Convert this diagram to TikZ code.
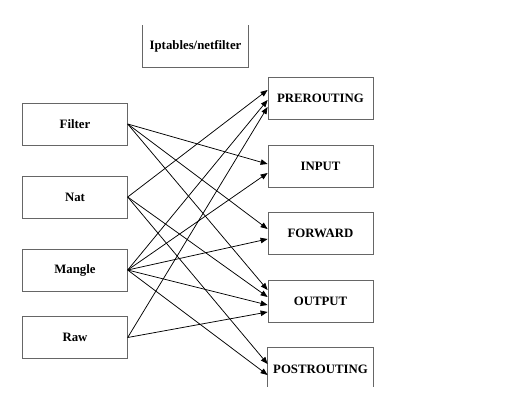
\documentclass[tikz,border=0pt]{standalone}
\usepackage{fontspec}
\setmainfont{Liberation Serif}
\usetikzlibrary{arrows.meta,calc}
\tikzset{
  boxline/.style={draw=black!60, line width=0.8pt},
  lbox/.style={boxline, minimum width=104.6pt, minimum height=42pt, inner sep=0pt, font=\fontsize{12.8}{14}\selectfont\bfseries},
  rbox/.style={lbox, minimum width=105pt},
  conn/.style={line width=0.75pt, -{Triangle[length=7pt,width=5.5pt]}},
}
\begin{document}
\begin{tikzpicture}[x=1pt,y=-1pt]
\useasboundingbox (0,0) rectangle (505,406);
% title (no top border)
\node[lbox, draw=none] (title) at (195.5,46.5) {Iptables/netfilter};
\draw[boxline] (title.north west) -- (title.south west) -- (title.south east) -- (title.north east);
% left boxes
\node[lbox] (filter) at (75,124) {Filter};
\node[lbox] (nat) at (75,197) {Nat};
\node[lbox] (mangle) at (75,270) {Mangle};
\node[lbox] (raw) at (75,337.5) {Raw};
% right boxes
\node[rbox] (pre) at (320.5,98) {PREROUTING};
\node[rbox] (input) at (320.5,166) {INPUT};
\node[rbox] (fwd) at (320.5,233) {FORWARD};
\node[rbox] (out) at (320.5,301) {OUTPUT};
\node[rbox, draw=none] (post) at (320.5,369) {POSTROUTING};
\draw[boxline] ($(post.north west)+(0,39)$) -- (post.north west) -- (post.north east) -- ($(post.north east)+(0,39)$);
% targets
\coordinate (preA) at ($(pre.west)+(0,-8)$);
\coordinate (preB) at ($(pre.west)+(0,2)$);
\coordinate (preC) at ($(pre.west)+(0,9)$);
\coordinate (inA) at ($(input.west)+(0,-2)$);
\coordinate (inB) at ($(input.west)+(0,7)$);
\coordinate (fwA) at ($(fwd.west)+(0,-4)$);
\coordinate (fwB) at ($(fwd.west)+(0,6)$);
\coordinate (outA) at ($(out.west)+(0,-11)$);
\coordinate (outB) at ($(out.west)+(0,-4)$);
\coordinate (outC) at ($(out.west)+(0,4)$);
\coordinate (outD) at ($(out.west)+(0,11)$);
\coordinate (postA) at ($(post.west)+(0,-5)$);
\coordinate (postB) at ($(post.west)+(0,6)$);
% connectors
\draw[conn] (filter.east) -- (inA);
\draw[conn] (filter.east) -- (fwA);
\draw[conn] (filter.east) -- (outA);
\draw[conn] (nat.east) -- (preA);
\draw[conn] (nat.east) -- (outB);
\draw[conn] (nat.east) -- (postA);
\draw[conn] (mangle.east) -- (preB);
\draw[conn] (mangle.east) -- (inB);
\draw[conn] (mangle.east) -- (fwB);
\draw[conn] (mangle.east) -- (outC);
\draw[conn] (mangle.east) -- (postB);
\draw[conn] (raw.east) -- (preC);
\draw[conn] (raw.east) -- (outD);
\end{tikzpicture}
\end{document}
